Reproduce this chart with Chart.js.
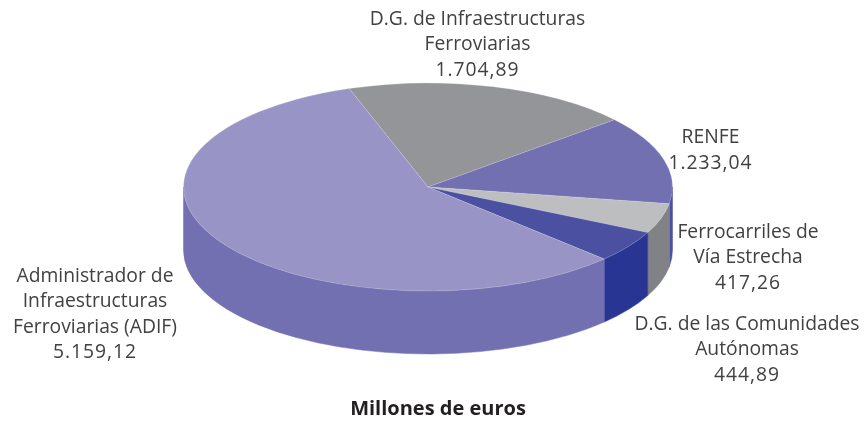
<!DOCTYPE html>
<html lang="es">
<head>
<meta charset="utf-8">
<title>Millones de euros</title>
<script src="https://cdn.jsdelivr.net/npm/chart.js@4"></script>
<style>
    html, body { margin: 0; padding: 0; background: #fff; }
    canvas { display: block; }
</style>
</head>
<body>
<canvas id="pieChart" width="867" height="425"></canvas>
<script>
// Data, in clockwise order starting from the grey slice
var categories = [
    ['D.G. de Infraestructuras', 'Ferroviarias'],
    ['RENFE'],
    ['Ferrocarriles de', 'Vía Estrecha'],
    ['D.G. de las Comunidades', 'Autónomas'],
    ['Administrador de', 'Infraestructuras', 'Ferroviarias (ADIF)']
];
var values = [1704.89, 1233.04, 417.26, 444.89, 5159.12];
var topColors = ['#939598', '#7370b2', '#bcbec0', '#4b50a0', '#9994c6'];
var sideColors = ['#808285', '#4b50a0', '#808285', '#283593', '#7370b2'];
var titleText = 'Millones de euros';

// Where each label block is centred (x) and where its first line sits (y)
var labelX = [477.5, 710.5, 748, 747, 95];
var labelY = [19.5, 138, 232.5, 324.5, 276.5];
var lineHeight = 25.5;

var pieCenterX = 428;
var pieCenterY = 187;
var pieRadiusX = 244.5;
var pieRadiusY = 104;
var pieDepth = 63;
var textColor = '#414042';
var fontFamily = '"Open Sans", "Noto Sans", sans-serif';

function formatValue(v) {
    var parts = v.toFixed(2).split('.');
    return parts[0].replace(/\B(?=(\d{3})+$)/g, '.') + ',' + parts[1];
}

var tiltPlugin = {
    id: 'tilt',
    beforeDatasetsDraw: function(chart) {
        var ctx = chart.ctx;
        var arcs = chart.getDatasetMeta(0).data;
        // Side wall: only the front half of the rim (0..PI) shows, using the arc's own angles
        arcs.forEach(function(arc, i) {
            var from = Math.max(arc.startAngle, 0);
            var to = Math.min(arc.endAngle, Math.PI);
            if (from >= to) return;
            ctx.beginPath();
            ctx.ellipse(pieCenterX, pieCenterY + pieDepth, pieRadiusX, pieRadiusY, 0, from, to);
            ctx.ellipse(pieCenterX, pieCenterY, pieRadiusX, pieRadiusY, 0, to, from, true);
            ctx.closePath();
            ctx.fillStyle = sideColors[i];
            ctx.strokeStyle = sideColors[i];
            ctx.lineWidth = 0.5;
            ctx.fill();
            ctx.stroke();
        });
        // Squash the round pie into an ellipse around the wanted centre
        var first = arcs[0];
        ctx.save();
        ctx.translate(pieCenterX, pieCenterY);
        ctx.scale(pieRadiusX / first.outerRadius, pieRadiusY / first.outerRadius);
        ctx.translate(-first.x, -first.y);
    },
    afterDatasetsDraw: function(chart) {
        chart.ctx.restore();
    }
};

var labelPlugin = {
    id: 'sliceLabels',
    afterDraw: function(chart) {
        var ctx = chart.ctx;
        ctx.save();
        ctx.fillStyle = textColor;
        ctx.font = '19.3px ' + fontFamily;
        ctx.textAlign = 'center';
        ctx.textBaseline = 'middle';
        categories.forEach(function(lines, i) {
            lines.forEach(function(line, n) {
                ctx.fillText(line, labelX[i], labelY[i] + n * lineHeight);
            });
            // the digits are set a bit wider than the words
            ctx.letterSpacing = '1px';
            ctx.fillText(formatValue(values[i]), labelX[i], labelY[i] + lines.length * lineHeight);
            ctx.letterSpacing = '0px';
        });
        ctx.restore();
    }
};

new Chart(document.getElementById('pieChart').getContext('2d'), {
    type: 'pie',
    data: {
        labels: categories.map(function(c) { return c.join(' '); }),
        datasets: [{
            data: values,
            backgroundColor: topColors,
            borderColor: 'rgba(225, 225, 235, 0.5)',
            borderWidth: 0.5,
            clip: false
        }]
    },
    options: {
        responsive: false,
        animation: false,
        rotation: -18.8,
        layout: { padding: { left: 9, bottom: 4 } },
        plugins: {
            legend: { display: false },
            tooltip: { enabled: false },
            title: {
                display: true,
                text: titleText,
                position: 'bottom',
                color: '#231f20',
                font: { family: fontFamily, size: 20, weight: 'bold' },
                padding: 0
            }
        }
    },
    plugins: [tiltPlugin, labelPlugin]
});
</script>
</body>
</html>
